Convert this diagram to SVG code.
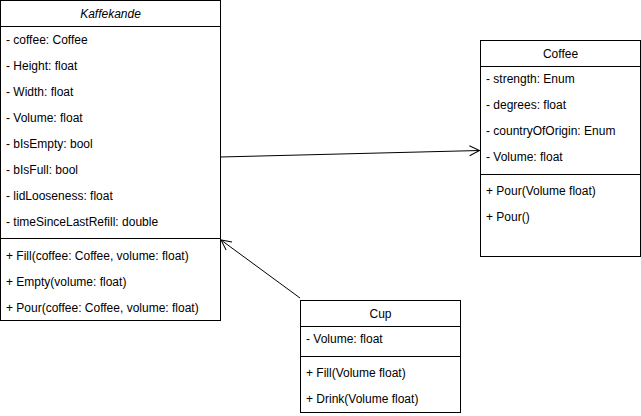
<svg xmlns="http://www.w3.org/2000/svg" width="641" height="416" viewBox="0 0 641 416">
<style>
.box{fill:#fff;stroke:#000;stroke-width:1}
.sep{stroke:#000;stroke-width:1}
text{font-family:"Liberation Sans",Arial,sans-serif;font-size:12px;fill:#000}
.t{text-anchor:middle;font-size:12px}
.edge{fill:none;stroke:#000;stroke-width:1}
</style>
<defs>
<marker id="open" viewBox="0 0 12 12" refX="11" refY="6" markerWidth="12" markerHeight="12" markerUnits="userSpaceOnUse" orient="auto">
<path d="M1,1 L11,6 L1,11" fill="none" stroke="#000" stroke-width="1"/>
</marker>
</defs>
<g id="connectors">
<path class="edge" d="M220.5,157 L479.5,150.5" marker-end="url(#open)"/>
<path class="edge" d="M300,298 L221,240" marker-end="url(#open)"/>
</g>
<g id="Kaffekande">
<rect class="box" x="0.5" y="0.5" width="220" height="320"/>
<line class="sep" x1="0.5" y1="26.5" x2="220.5" y2="26.5"/>
<line class="sep" x1="0.5" y1="238.5" x2="220.5" y2="238.5"/>
<text class="t" x="110.5" y="18" font-style="italic">Kaffekande</text>
<text x="6" y="44">- coffee: Coffee</text>
<text x="6" y="70">- Height: float</text>
<text x="6" y="96">- Width: float</text>
<text x="6" y="122">- Volume: float</text>
<text x="6" y="148">- bIsEmpty: bool</text>
<text x="6" y="174">- bIsFull: bool</text>
<text x="6" y="200">- lidLooseness: float</text>
<text x="6" y="226">- timeSinceLastRefill: double</text>
<text x="6" y="260">+ Fill(coffee: Coffee, volume: float)</text>
<text x="6" y="286">+ Empty(volume: float)</text>
<text x="6" y="312">+ Pour(coffee: Coffee, volume: float)</text>
</g>
<g id="Coffee">
<rect class="box" x="480.5" y="40.5" width="160" height="216"/>
<line class="sep" x1="480.5" y1="66.5" x2="640.5" y2="66.5"/>
<line class="sep" x1="480.5" y1="174.5" x2="640.5" y2="174.5"/>
<text class="t" x="560.5" y="58">Coffee</text>
<text x="486" y="83">- strength: Enum</text>
<text x="486" y="109">- degrees: float</text>
<text x="486" y="135">- countryOfOrigin: Enum</text>
<text x="486" y="161">- Volume: float</text>
<text x="486" y="195">+ Pour(Volume float)</text>
<text x="486" y="221">+ Pour()</text>
</g>
<g id="Cup">
<rect class="box" x="300.5" y="300.5" width="160" height="112"/>
<line class="sep" x1="300.5" y1="326.5" x2="460.5" y2="326.5"/>
<line class="sep" x1="300.5" y1="356.5" x2="460.5" y2="356.5"/>
<text class="t" x="380.5" y="318">Cup</text>
<text x="306" y="343">- Volume: float</text>
<text x="306" y="377">+ Fill(Volume float)</text>
<text x="306" y="403">+ Drink(Volume float)</text>
</g>
</svg>
